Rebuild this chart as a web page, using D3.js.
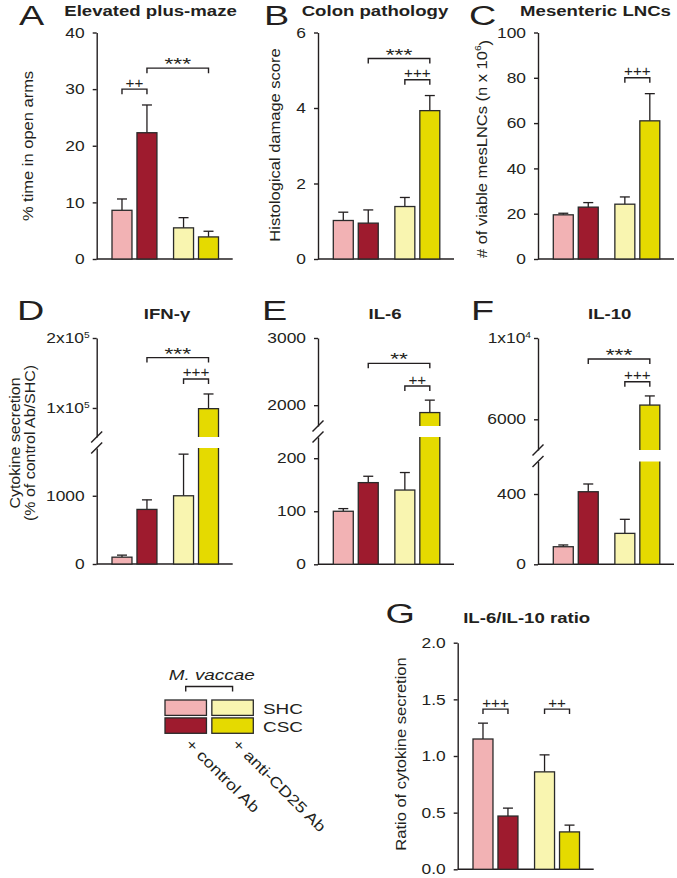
<!DOCTYPE html>
<html><head><meta charset="utf-8">
<script src="https://cdn.jsdelivr.net/npm/d3@7"></script>
<style>
body{margin:0;background:#fff;}
svg text{font-family:"Liberation Sans",Arial,Helvetica,sans-serif;}
</style></head><body>
<svg id="chart" width="677" height="878"></svg>
<script>
// ---------- data ----------
const groups = ["control Ab", "anti-CD25 Ab"];
const conditions = ["SHC", "CSC"];
const barColors = ["#f2b2b4", "#9e1b2e", "#f9f5b0", "#e5da00"]; // SHC+ctrl, CSC+ctrl, SHC+antiCD25, CSC+antiCD25

const plusMazeMean = [8.6, 22.3, 5.5, 3.9];
const plusMazeSem  = [2.0, 4.9, 1.8, 1.0];
const colonMean    = [1.02, 0.95, 1.39, 3.93];
const colonSem     = [0.22, 0.35, 0.24, 0.40];
const lncMean      = [19.5, 22.9, 24.2, 61];
const lncSem       = [0.7, 2.0, 3.2, 12];
const ifnMean      = [100, 800, 1000, 99000];
const ifnSem       = [30, 140, 610, 21000];
const il6Mean      = [100, 154, 140, 1890];
const il6Sem       = [5, 12, 33, 185];
const il10Mean     = [100, 413, 176, 6700];
const il10Sem      = [10, 44, 80, 450];
const ratioMean    = [1.15, 0.47, 0.86, 0.33];
const ratioSem     = [0.14, 0.07, 0.15, 0.06];

const ticksA = [0, 10, 20, 30, 40];
const ticksB = [0, 2, 4, 6];
const ticksC = [0, 20, 40, 60, 80, 100];
const ticksDlow = [0, 1000], labelsDlow = ["0", "1000"];
const ticksDup = [100000, 200000], labelsDup = [["1x10", "5"], ["2x10", "5"]];
const ticksElow = [0, 100, 200], labelsElow = ["0", "100", "200"];
const ticksEup = [2000, 3000], labelsEup = ["2000", "3000"];
const ticksFlow = [0, 400], labelsFlow = ["0", "400"];
const ticksFup = [6000, 10000], labelsFup = ["6000", ["1x10", "4"]];
const ticksG = [0, 0.5, 1.0, 1.5, 2.0];

const bracketsA = [{from: 0, to: 1, y: 30, label: "++"}, {from: 1, to: 3, y: 33.7, label: "***"}];
const bracketsB = [{from: 1, to: 3, y: 5.31, label: "***"}, {from: 2, to: 3, y: 4.75, label: "+++"}];
const bracketsC = [{from: 2, to: 3, y: 80, label: "+++"}];
const bracketsD = [{from: 1, to: 3, y: 172000, label: "***"}, {from: 2, to: 3, y: 141400, label: "+++"}];
const bracketsE = [{from: 1, to: 3, y: 2623, label: "**"}, {from: 2, to: 3, y: 2285, label: "++"}];
const bracketsF = [{from: 1, to: 3, y: 8967, label: "***"}, {from: 2, to: 3, y: 7850, label: "+++"}];
const bracketsG = [{from: 0, to: 1, y: 1.414, label: "+++"}, {from: 2, to: 3, y: 1.414, label: "++"}];

// ---------- drawing ----------
const svg = d3.select("#chart");
const INK = "#231f20";
const SX = 1.2;

function label(parent, x, y, str, o = {}) {
  const size = o.size || 15;
  const t = parent.append("text")
    .attr("transform", `translate(${x},${y})${o.rotate ? ` rotate(${o.rotate})` : ""} scale(${o.sx ?? SX},${o.sy ?? 1})`)
    .attr("text-anchor", o.anchor || "start")
    .attr("font-size", size)
    .attr("font-weight", o.weight || "normal")
    .attr("font-style", o.style || "normal")
    .attr("fill", INK);
  if (Array.isArray(str)) {
    t.text(str[0]);
    t.append("tspan").attr("dy", "-0.6em").attr("font-size", size * 0.62).text(str[1]);
    if (str[2]) t.append("tspan").attr("dy", "0.6em").text(str[2]);
  } else t.text(str);
  return t;
}

function drawAxis(g, scale, ticks, labels) {
  const ax = g.append("g").call(
    d3.axisLeft(scale).tickValues(ticks).tickSize(4).tickSizeOuter(0).tickPadding(8).tickFormat(() => "")
  );
  ax.select(".domain").attr("stroke", INK).attr("stroke-width", 1.4);
  ax.selectAll(".tick line").attr("stroke", INK).attr("stroke-width", 1.4);
  ax.selectAll(".tick text").each(function (d, i) {
    const lab = labels ? labels[i] : String(d);
    const t = d3.select(this);
    const sup = Array.isArray(lab);
    t.attr("x", 0).attr("transform", `translate(${sup ? -7 : -12},0) scale(${SX},1)`)
      .attr("font-size", 14.5).attr("fill", INK);
    if (sup) {
      t.text(lab[0]);
      t.append("tspan").attr("dy", "-0.6em").attr("font-size", 8.5).text(lab[1]);
    } else t.text(lab);
  });
}

function drawPanel(p) {
  const g = svg.append("g").attr("transform", `translate(${p.x},0)`);
  const xOuter = d3.scaleBand().domain(groups).range([15.3, 121.8]).paddingInner(0.27);
  const xInner = d3.scaleBand().domain(conditions).range([0, xOuter.bandwidth()]).paddingInner(0.2);
  const bw = xInner.bandwidth();
  const bx = i => xOuter(groups[i >> 1]) + xInner(conditions[i % 2]);
  const cx = i => bx(i) + bw / 2;

  let yOf, lowMax = Infinity;
  if (p.upper) {
    const lo = d3.scaleLinear().domain(p.lower.domain).range([p.bottom, p.breakLow]);
    const up = d3.scaleLinear().domain(p.upper.domain).range([p.breakHigh, p.top]);
    lowMax = p.lower.domain[1];
    yOf = v => (v <= lowMax ? lo(v) : up(v));
    drawAxis(g, lo, p.lower.ticks, p.lower.labels);
    drawAxis(g, up, p.upper.ticks, p.upper.labels);
    [p.breakHigh, p.breakLow].forEach(y =>
      g.append("line").attr("x1", -5.5).attr("x2", 5.5).attr("y1", y + 5.5).attr("y2", y - 5.5)
        .attr("stroke", INK).attr("stroke-width", 1.4));
  } else {
    const s = d3.scaleLinear().domain(p.domain).range([p.bottom, p.top]);
    yOf = s;
    drawAxis(g, s, p.ticks, p.labels);
  }

  // baseline
  g.append("line").attr("x1", 0).attr("x2", 136).attr("y1", p.bottom).attr("y2", p.bottom)
    .attr("stroke", INK).attr("stroke-width", 1.4);

  // error bars
  p.mean.forEach((m, i) => {
    const y0 = yOf(m), y1 = yOf(m + p.sem[i]);
    g.append("line").attr("x1", cx(i)).attr("x2", cx(i)).attr("y1", y0).attr("y2", y1)
      .attr("stroke", INK).attr("stroke-width", 1.3);
    g.append("line").attr("x1", cx(i) - 5).attr("x2", cx(i) + 5).attr("y1", y1).attr("y2", y1)
      .attr("stroke", INK).attr("stroke-width", 1.3);
  });
  // bars
  p.mean.forEach((m, i) => {
    g.append("rect").attr("x", bx(i)).attr("y", yOf(m)).attr("width", bw)
      .attr("height", p.bottom - yOf(m)).attr("fill", barColors[i])
      .attr("stroke", "#2a2a2a").attr("stroke-width", 1.3);
    if (m > lowMax) {
      g.append("rect").attr("x", bx(i) - 2).attr("y", p.breakHigh).attr("width", bw + 4)
        .attr("height", p.breakLow - p.breakHigh).attr("fill", "#fff");
    }
  });

  // significance brackets
  p.brackets.forEach(b => {
    const x1 = cx(b.from), x2 = cx(b.to), y = yOf(b.y);
    g.append("path").attr("d", `M${x1},${y + 5}V${y}H${x2}V${y + 5}`)
      .attr("fill", "none").attr("stroke", INK).attr("stroke-width", 1.4);
    const star = b.label.includes("*");
    if (star) {
      label(g, (x1 + x2) / 2, y + 2, b.label, {anchor: "middle", size: 13, sx: 1.75, sy: 1.3});
    } else {
      label(g, (x1 + x2) / 2, y - 1.5, b.label, {anchor: "middle", size: 13, sx: 1.17, sy: 1.1});
    }
  });

  // title, panel letter, y label
  label(svg, p.title.x, p.title.y, p.title.text, {anchor: "middle", size: 15.5, weight: "bold"});
  label(svg, p.letter.x, p.letter.y, p.letter.text, {size: 28, sx: 1.35});
  p.ylab.forEach(l => label(svg, l.x, l.y, l.text, {anchor: "middle", size: l.size || 15, rotate: -90, sx: 1.1}));
}

const panels = [
  {x: 96.7, top: 32.5, bottom: 259, domain: [0, 40], ticks: ticksA, mean: plusMazeMean, sem: plusMazeSem,
   brackets: bracketsA, title: {x: 150.5, y: 16, text: "Elevated plus-maze"}, letter: {x: 19, y: 25, text: "A"},
   ylab: [{x: 33, y: 146, text: "% time in open arms"}]},
  {x: 318, top: 32.5, bottom: 259, domain: [0, 6], ticks: ticksB, mean: colonMean, sem: colonSem,
   brackets: bracketsB, title: {x: 375, y: 16, text: "Colon pathology"}, letter: {x: 264, y: 25, text: "B"},
   ylab: [{x: 280, y: 145, text: "Histological damage score"}]},
  {x: 538, top: 32.5, bottom: 259, domain: [0, 100], ticks: ticksC, mean: lncMean, sem: lncSem,
   brackets: bracketsC, title: {x: 595.5, y: 16, text: "Mesenteric LNCs"}, letter: {x: 469, y: 25, text: "C"},
   ylab: [{x: 487, y: 149, text: ["# of viable mesLNCs (n x 10", "6", ")"]}]},
  {x: 96.7, top: 338, bottom: 564, breakHigh: 437, breakLow: 448,
   lower: {domain: [0, 1700], ticks: ticksDlow, labels: labelsDlow},
   upper: {domain: [58500, 200000], ticks: ticksDup, labels: labelsDup},
   mean: ifnMean, sem: ifnSem, brackets: bracketsD,
   title: {x: 167, y: 319, text: "IFN-γ"}, letter: {x: 17, y: 320, text: "D"},
   ylab: [{x: 19.5, y: 443, text: "Cytokine secretion", size: 14.5},
          {x: 34.5, y: 443, text: "(% of control Ab/SHC)", size: 14.5}]},
  {x: 318, top: 338, bottom: 564.3, breakHigh: 426, breakLow: 437,
   lower: {domain: [0, 240], ticks: ticksElow, labels: labelsElow},
   upper: {domain: [1690, 3000], ticks: ticksEup, labels: labelsEup},
   mean: il6Mean, sem: il6Sem, brackets: bracketsE,
   title: {x: 385, y: 319, text: "IL-6"}, letter: {x: 262, y: 320, text: "E"}, ylab: []},
  {x: 538, top: 338, bottom: 564.3, breakHigh: 450, breakLow: 461.5,
   lower: {domain: [0, 585], ticks: ticksFlow, labels: labelsFlow},
   upper: {domain: [4490, 10000], ticks: ticksFup, labels: labelsFup},
   mean: il10Mean, sem: il10Sem, brackets: bracketsF,
   title: {x: 609.7, y: 319, text: "IL-10"}, letter: {x: 471, y: 320, text: "F"}, ylab: []},
  {x: 457.7, top: 642.7, bottom: 869.3, domain: [0, 2], ticks: ticksG, labels: ticksG.map(d3.format(".1f")),
   mean: ratioMean, sem: ratioSem, brackets: bracketsG,
   title: {x: 526.7, y: 623, text: "IL-6/IL-10 ratio"}, letter: {x: 385.5, y: 623, text: "G"},
   ylab: [{x: 405.5, y: 754, text: "Ratio of cytokine secretion"}]}
];
panels.forEach(drawPanel);

// ---------- legend ----------
const lg = svg.append("g");
const legX = d3.scaleBand().domain(groups).range([165, 253.3]).paddingInner(0.115);
const legY = d3.scaleBand().domain(conditions).range([700, 733.3]).paddingInner(0.14);
label(lg, 211.7, 680, "M. vaccae", {anchor: "middle", size: 15.5, style: "italic", sx: 1.22});
{
  const x1 = legX(groups[0]) + legX.bandwidth() / 2, x2 = legX(groups[1]) + legX.bandwidth() / 2;
  lg.append("path").attr("d", `M${x1},691.5V686.5H${x2}V691.5`).attr("fill", "none")
    .attr("stroke", INK).attr("stroke-width", 1.4);
}
groups.forEach((gname, gi) => conditions.forEach((c, ci) => {
  lg.append("rect").attr("x", legX(gname)).attr("y", legY(c)).attr("width", legX.bandwidth())
    .attr("height", legY.bandwidth()).attr("fill", barColors[gi * 2 + ci])
    .attr("stroke", "#2a2a2a").attr("stroke-width", 1.3);
}));
conditions.forEach(c => label(lg, 263, legY(c) + legY.bandwidth() / 2 + 6, c, {size: 15.5, sx: 1.22}));
groups.forEach(gname => label(lg, legX(gname) + legX.bandwidth() / 2 - 1, 745, "+ " + gname,
  {size: 15, rotate: 45, sx: 1.22}));
</script>
</body></html>
